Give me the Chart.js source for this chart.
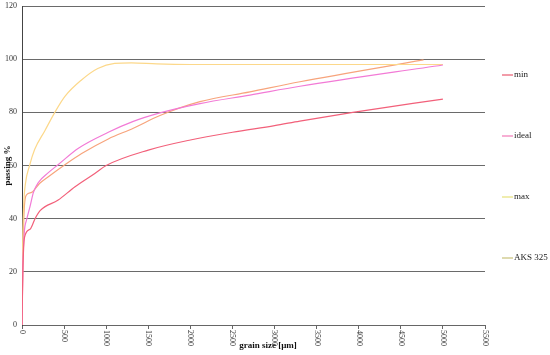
<!DOCTYPE html>
<html><head><meta charset="utf-8">
<script src="https://cdn.jsdelivr.net/npm/chart.js@4/dist/chart.umd.min.js"></script>
<style>html,body{margin:0;padding:0;background:#fff}#wrap{width:550px;height:355px}</style>
</head><body><div id="wrap"><canvas id="c" width="550" height="355"></canvas></div>
<script>
const seriesNames = ["min", "ideal", "max", "AKS 325"];
const xTicks = [0,500,1000,1500,2000,2500,3000,3500,4000,4500,5000,5500];
const yTicks = [0,20,40,60,80,100,120];

const minX = [0, 10, 30, 95, 155, 215, 430, 630, 865, 1000, 1500, 2000, 2500, 3000, 3300, 3930, 5000];
const minY = [0, 20, 33, 36, 40, 43, 47, 52, 57, 60, 65.8, 69.6, 72.5, 75, 76.7, 80, 85];

const idealX = [0, 10, 28, 55, 95, 135, 194, 313, 432, 670, 1025, 1322, 1639, 2114, 2708, 3302, 5000];
const idealY = [0, 22, 35, 39.6, 44.5, 49.8, 53.6, 57.3, 60.4, 66.5, 72.5, 76.6, 79.8, 83.3, 86.5, 89.8, 97.8];

const maxX = [0, 8, 20, 40, 90, 150, 270, 390, 510, 700, 900, 1100, 1300, 1600, 2000, 3000, 4000, 5000];
const maxY = [0, 30, 45, 53, 60, 66, 73, 80, 86, 92, 96.5, 98.4, 98.6, 98.2, 98, 98, 98, 98];

const aksX = [0, 10, 28, 55, 115, 155, 214, 313, 510, 709, 1025, 1322, 1639, 2114, 2708, 3302, 4770];
const aksY = [0, 25, 44.5, 49, 49.9, 51.2, 53.4, 55.8, 60.3, 64.5, 70, 74, 78.8, 84, 87.7, 91.5, 99.7];

const lineColors = ["#f2607a", "#f27ad6", "#fcd88a", "#f7a47c"];
const legendColors = ["#ea5a70", "#f27ab8", "#e6e27a", "#c9c27a"];

function pts(xs, ys){ return xs.map((x,i)=>({x:x, y:ys[i]})); }
const allData = [pts(minX,minY), pts(idealX,idealY), pts(maxX,maxY), pts(aksX,aksY)];

const customDraw = {
  id: 'customDraw',
  afterDraw(chart){
    const ctx = chart.ctx;
    const xs = chart.scales.x, ca = chart.chartArea;
    ctx.save();
    ctx.fillStyle = '#333';
    ctx.font = '8px "Liberation Serif", serif';
    ctx.textAlign = 'left';
    ctx.textBaseline = 'middle';
    xTicks.forEach(v => {
      const px = xs.getPixelForValue(v);
      ctx.save();
      ctx.translate(px, ca.bottom + 5);
      ctx.rotate(Math.PI/2);
      ctx.fillText(String(v), 0, 0);
      ctx.restore();
    });
    // axis titles
    ctx.fillStyle = '#111';
    ctx.font = 'bold 9px "Liberation Serif", serif';
    ctx.textAlign = 'center';
    ctx.textBaseline = 'middle';
    ctx.fillText('grain size [µm]', 268, 346);
    ctx.save();
    ctx.translate(8, (ca.top + ca.bottom)/2);
    ctx.rotate(-Math.PI/2);
    ctx.fillText('passing %', 0, 0);
    ctx.restore();
    // legend
    const ly = [75, 136, 197, 258];
    ctx.font = '9px "Liberation Serif", serif';
    ctx.textAlign = 'left';
    seriesNames.forEach((n,i)=>{
      ctx.strokeStyle = legendColors[i];
      ctx.lineWidth = 1.2;
      ctx.beginPath();
      ctx.moveTo(502, ly[i]); ctx.lineTo(513, ly[i]);
      ctx.stroke();
      ctx.fillStyle = '#222';
      ctx.fillText(n, 514, ly[i]);
    });
    ctx.restore();
  }
};

new Chart(document.getElementById('c'), {
  type: 'scatter',
  data: {
    datasets: seriesNames.map((n,i)=>({
      label: n,
      data: allData[i],
      showLine: true,
      borderColor: lineColors[i],
      backgroundColor: lineColors[i],
      borderWidth: 1.2,
      pointRadius: 0,
      cubicInterpolationMode: 'monotone',
      fill: false
    }))
  },
  options: {
    responsive: false,
    animation: false,
    layout: { padding: { left: 0, right: 65, top: 6, bottom: 0 } },
    plugins: { legend: { display: false }, tooltip: { enabled: false } },
    scales: {
      x: {
        type: 'linear', min: 0, max: 5500,
        afterBuildTicks(scale){ scale.ticks = xTicks.map(v=>({value:v})); },
        afterFit(scale){ scale.height = 30; scale.paddingLeft = 0; scale.paddingRight = 0; },
        ticks: { display: false },
        grid: { display: true, drawOnChartArea: false, drawTicks: true, tickLength: 4, color: '#666' },
        border: { display: true, color: '#666' }
      },
      y: {
        min: 0, max: 120,
        afterBuildTicks(scale){ scale.ticks = yTicks.map(v=>({value:v})); },
        afterFit(scale){ scale.width = 22; scale.paddingTop = 0; scale.paddingBottom = 0; },
        ticks: { color: '#333', font: { family: '"Liberation Serif", serif', size: 8 }, padding: 5 },
        grid: { color: '#6a6a6a', drawTicks: false, lineWidth: 1 },
        border: { display: true, color: '#444' }
      }
    }
  },
  plugins: [customDraw]
});
</script></body></html>
